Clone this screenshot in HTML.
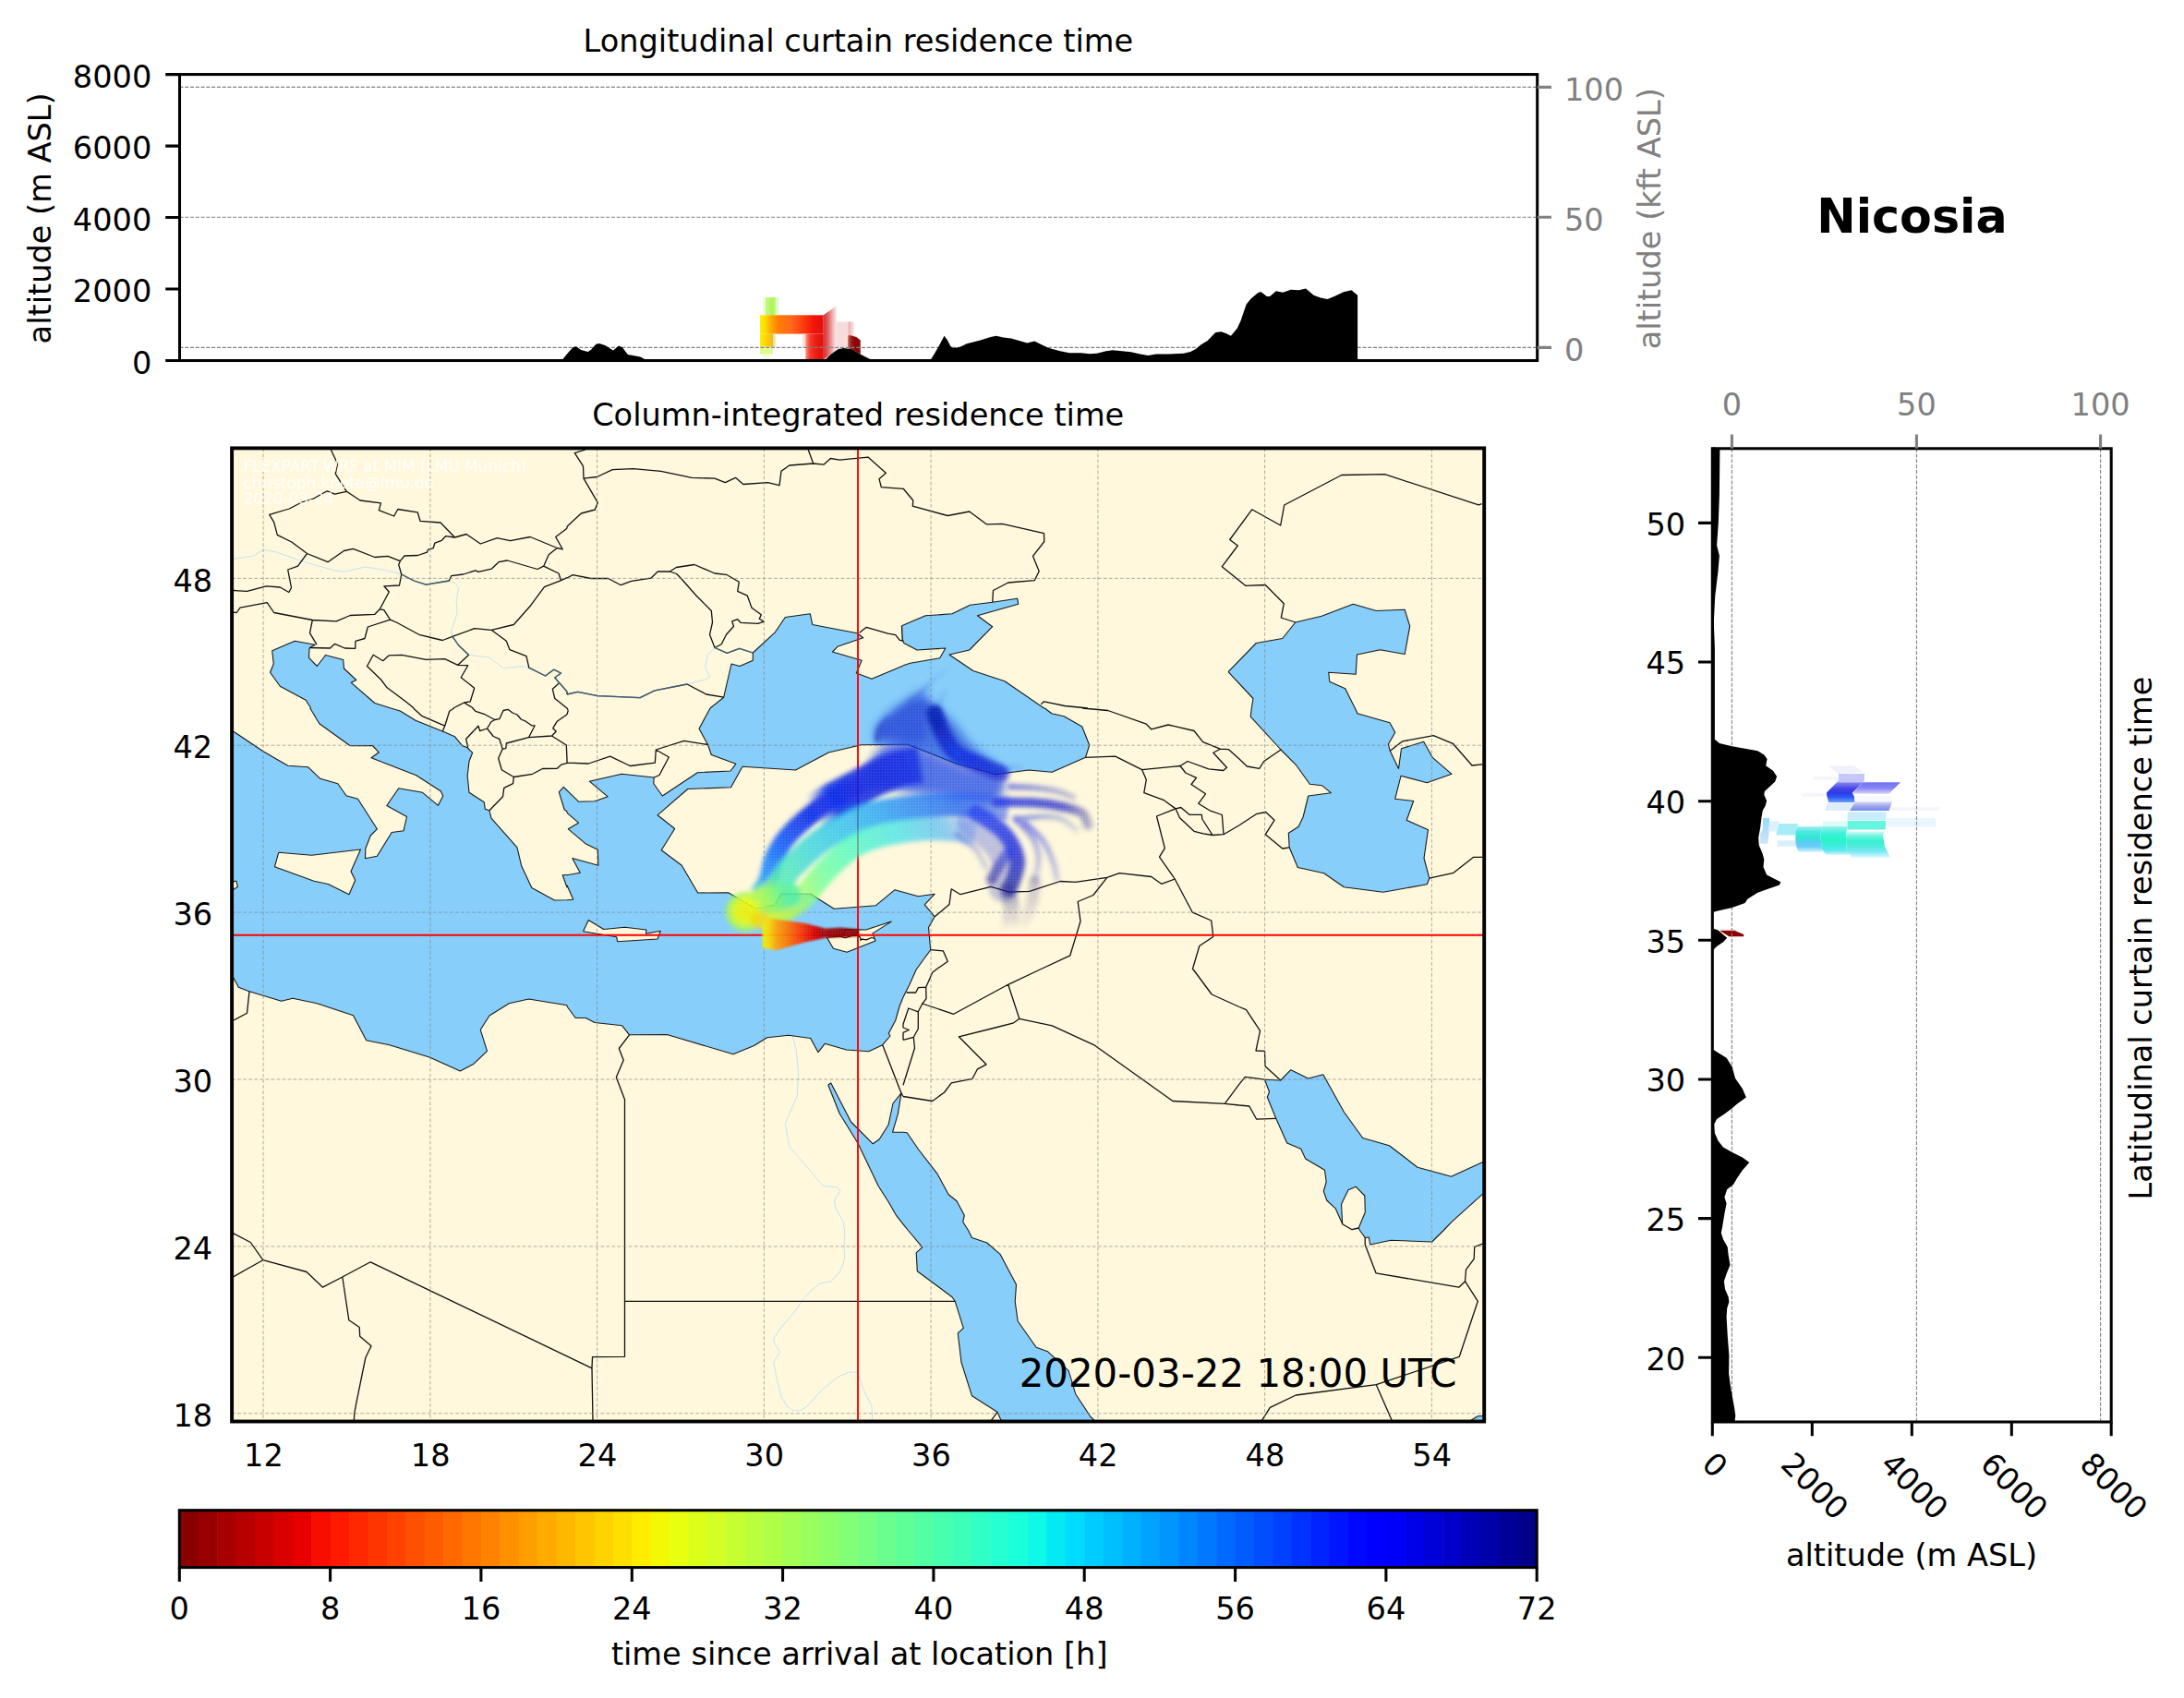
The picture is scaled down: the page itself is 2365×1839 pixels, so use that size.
<!DOCTYPE html>
<html><head><meta charset="utf-8"><title>Nicosia residence time</title>
<style>
html,body{margin:0;padding:0;background:#fff;}
svg{display:block;}
text{font-family:"DejaVu Sans","Liberation Sans",sans-serif;font-size:33.6px;fill:#000;}
</style></head>
<body>
<svg width="2365" height="1839" viewBox="0 0 2365 1839">
<defs><filter id="pblur" x="-10%" y="-10%" width="120%" height="120%"><feGaussianBlur stdDeviation="2.6"/></filter><filter id="pblur0" x="-10%" y="-10%" width="120%" height="120%"><feGaussianBlur stdDeviation="1.1"/></filter><filter id="pblur2" x="-10%" y="-10%" width="120%" height="120%"><feGaussianBlur stdDeviation="5"/></filter><pattern id="dotpat" x="0.5" y="1.2" width="3.0126" height="3.015" patternUnits="userSpaceOnUse"><rect width="3.1" height="3.1" fill="#cccccc"/><rect x="0.35" y="0.35" width="2.3" height="2.3" fill="#fff"/></pattern><mask id="dotmask" maskUnits="userSpaceOnUse" x="700" y="650" width="600" height="450"><rect x="700" y="650" width="600" height="450" fill="url(#dotpat)"/></mask><linearGradient id="g0" gradientUnits="userSpaceOnUse" x1="950.2" y1="802.1" x2="961" y2="778.3"><stop offset="0%" stop-color="#1428b8" stop-opacity="0.75"/><stop offset="100%" stop-color="#2040c8" stop-opacity="0.5"/></linearGradient><linearGradient id="g1" gradientUnits="userSpaceOnUse" x1="996.7" y1="749.8" x2="1026.4" y2="724.8"><stop offset="0%" stop-color="#3060e0" stop-opacity="0.4"/><stop offset="100%" stop-color="#3060e0" stop-opacity="0.05"/></linearGradient><linearGradient id="g2" gradientUnits="userSpaceOnUse" x1="986" y1="759.3" x2="1006.2" y2="743.8"><stop offset="0%" stop-color="#2848d8" stop-opacity="0.45"/><stop offset="100%" stop-color="#2848d8" stop-opacity="0.1"/></linearGradient><linearGradient id="g3" gradientUnits="userSpaceOnUse" x1="1015.7" y1="767.6" x2="1024" y2="747.4"><stop offset="0%" stop-color="#2848d8" stop-opacity="0.4"/><stop offset="100%" stop-color="#2848d8" stop-opacity="0.05"/></linearGradient><linearGradient id="g4" gradientUnits="userSpaceOnUse" x1="1012.1" y1="772.4" x2="1083.6" y2="837.3"><stop offset="0%" stop-color="#0614b0" stop-opacity="0.92"/><stop offset="50%" stop-color="#0a24dc" stop-opacity="0.92"/><stop offset="100%" stop-color="#0c1cd0" stop-opacity="0.75"/></linearGradient><linearGradient id="g5" gradientUnits="userSpaceOnUse" x1="1013.3" y1="781.9" x2="1037.1" y2="817.6"><stop offset="0%" stop-color="#0410a0" stop-opacity="0.7"/><stop offset="100%" stop-color="#1040f0" stop-opacity="0.7"/></linearGradient><linearGradient id="g6" gradientUnits="userSpaceOnUse" x1="1083.6" y1="837.3" x2="1106.2" y2="833.1"><stop offset="0%" stop-color="#2030c0" stop-opacity="0.5"/><stop offset="100%" stop-color="#2030c0" stop-opacity="0.1"/></linearGradient><linearGradient id="g7" gradientUnits="userSpaceOnUse" x1="821.4" y1="969" x2="969" y2="832.7"><stop offset="0%" stop-color="#40d8c0" stop-opacity="0.9"/><stop offset="8%" stop-color="#1c94ff" stop-opacity="0.93"/><stop offset="28%" stop-color="#0a58fa" stop-opacity="0.95"/><stop offset="50%" stop-color="#0624ea" stop-opacity="0.95"/><stop offset="72%" stop-color="#081ee0" stop-opacity="0.95"/><stop offset="100%" stop-color="#081ee0" stop-opacity="0.0"/></linearGradient><linearGradient id="g8" gradientUnits="userSpaceOnUse" x1="880.4" y1="882.1" x2="996.4" y2="828.6"><stop offset="0%" stop-color="#0a3ce8" stop-opacity="0.0"/><stop offset="20%" stop-color="#0624ea" stop-opacity="0.9"/><stop offset="60%" stop-color="#0820e0" stop-opacity="0.92"/><stop offset="100%" stop-color="#0c28e4" stop-opacity="0.9"/></linearGradient><linearGradient id="g9" gradientUnits="userSpaceOnUse" x1="810.7" y1="985.7" x2="1091.7" y2="876.2"><stop offset="0%" stop-color="#e8f818" stop-opacity="0.95"/><stop offset="7%" stop-color="#a8f858" stop-opacity="0.9"/><stop offset="14%" stop-color="#3cecb0" stop-opacity="0.82"/><stop offset="30%" stop-color="#20d0e4" stop-opacity="0.8"/><stop offset="48%" stop-color="#14b0f8" stop-opacity="0.8"/><stop offset="66%" stop-color="#1080f8" stop-opacity="0.8"/><stop offset="84%" stop-color="#1458f4" stop-opacity="0.8"/><stop offset="100%" stop-color="#1840f0" stop-opacity="0.5"/></linearGradient><linearGradient id="g10" gradientUnits="userSpaceOnUse" x1="827.4" y1="995.2" x2="1056" y2="902.4"><stop offset="0%" stop-color="#f0f410" stop-opacity="0.95"/><stop offset="10%" stop-color="#c0f840" stop-opacity="0.9"/><stop offset="20%" stop-color="#98ff68" stop-opacity="0.82"/><stop offset="32%" stop-color="#58ff98" stop-opacity="0.78"/><stop offset="50%" stop-color="#30f8c8" stop-opacity="0.75"/><stop offset="70%" stop-color="#28dcec" stop-opacity="0.72"/><stop offset="87%" stop-color="#38b0fc" stop-opacity="0.65"/><stop offset="100%" stop-color="#4090f8" stop-opacity="0.3"/></linearGradient><linearGradient id="g11" gradientUnits="userSpaceOnUse" x1="807.1" y1="985.7" x2="853.6" y2="969"><stop offset="0%" stop-color="#e4f818" stop-opacity="0.95"/><stop offset="50%" stop-color="#98f858" stop-opacity="0.92"/><stop offset="100%" stop-color="#50f0a0" stop-opacity="0.9"/></linearGradient><linearGradient id="g12" gradientUnits="userSpaceOnUse" x1="1094.3" y1="852.1" x2="1162.1" y2="863.5"><stop offset="0%" stop-color="#2030e0" stop-opacity="0.65"/><stop offset="100%" stop-color="#2030c0" stop-opacity="0.3"/></linearGradient><linearGradient id="g13" gradientUnits="userSpaceOnUse" x1="1078.8" y1="868.8" x2="1178.2" y2="893.8"><stop offset="0%" stop-color="#1830e8" stop-opacity="0.88"/><stop offset="70%" stop-color="#1820c8" stop-opacity="0.75"/><stop offset="100%" stop-color="#202098" stop-opacity="0.35"/></linearGradient><linearGradient id="g14" gradientUnits="userSpaceOnUse" x1="1102.6" y1="886.7" x2="1165.7" y2="898.6"><stop offset="0%" stop-color="#2040e8" stop-opacity="0.6"/><stop offset="100%" stop-color="#2040c0" stop-opacity="0.2"/></linearGradient><linearGradient id="g15" gradientUnits="userSpaceOnUse" x1="1056.8" y1="880.2" x2="1092.8" y2="962.9"><stop offset="0%" stop-color="#1838f0" stop-opacity="0.85"/><stop offset="60%" stop-color="#1420e0" stop-opacity="0.85"/><stop offset="100%" stop-color="#14149a" stop-opacity="0.75"/></linearGradient><linearGradient id="g16" gradientUnits="userSpaceOnUse" x1="1052.6" y1="890.8" x2="1086.5" y2="960.8"><stop offset="0%" stop-color="#2848f0" stop-opacity="0.35"/><stop offset="100%" stop-color="#2838c0" stop-opacity="0.3"/></linearGradient><linearGradient id="g17" gradientUnits="userSpaceOnUse" x1="1090.7" y1="962.9" x2="1092.8" y2="1007.4"><stop offset="0%" stop-color="#20208a" stop-opacity="0.45"/><stop offset="100%" stop-color="#20208a" stop-opacity="0.0"/></linearGradient><linearGradient id="g18" gradientUnits="userSpaceOnUse" x1="1035.6" y1="903.5" x2="1067.4" y2="939.6"><stop offset="0%" stop-color="#3040e0" stop-opacity="0.45"/><stop offset="100%" stop-color="#3040e0" stop-opacity="0.25"/></linearGradient><linearGradient id="g19" gradientUnits="userSpaceOnUse" x1="1109.8" y1="890.8" x2="1144.8" y2="952.3"><stop offset="0%" stop-color="#2838e8" stop-opacity="0.6"/><stop offset="100%" stop-color="#2838e8" stop-opacity="0.25"/></linearGradient><linearGradient id="g20" gradientUnits="userSpaceOnUse" x1="1099.2" y1="886.6" x2="1120.4" y2="954.4"><stop offset="0%" stop-color="#2838e8" stop-opacity="0.55"/><stop offset="100%" stop-color="#2838e8" stop-opacity="0.2"/></linearGradient><linearGradient id="g21" gradientUnits="userSpaceOnUse" x1="1120.4" y1="954.4" x2="1103.4" y2="1007.4"><stop offset="0%" stop-color="#303090" stop-opacity="0.3"/><stop offset="100%" stop-color="#303090" stop-opacity="0.0"/></linearGradient><linearGradient id="g22" gradientUnits="userSpaceOnUse" x1="1073.8" y1="952.3" x2="1090.7" y2="924.7"><stop offset="0%" stop-color="#1818a0" stop-opacity="0.6"/><stop offset="100%" stop-color="#1828e0" stop-opacity="0.6"/></linearGradient><radialGradient id="g23" gradientUnits="userSpaceOnUse" cx="807.2" cy="987.4" r="23"><stop offset="0%" stop-color="#f8f000" stop-opacity="1"/><stop offset="50%" stop-color="#e8f810" stop-opacity="1"/><stop offset="80%" stop-color="#b0f850" stop-opacity="0.95"/><stop offset="100%" stop-color="#90f070" stop-opacity="0.6"/></radialGradient><linearGradient id="g24" gradientUnits="userSpaceOnUse" x1="893.8" y1="1010.6" x2="825.8" y2="1010.6"><stop offset="0%" stop-color="#a00000" stop-opacity="1"/><stop offset="18%" stop-color="#e00000" stop-opacity="1"/><stop offset="40%" stop-color="#ff3800" stop-opacity="1"/><stop offset="62%" stop-color="#ff7800" stop-opacity="1"/><stop offset="78%" stop-color="#ffa000" stop-opacity="1"/><stop offset="90%" stop-color="#ffd800" stop-opacity="1"/><stop offset="100%" stop-color="#f4f000" stop-opacity="1"/></linearGradient><linearGradient id="g25" gradientUnits="userSpaceOnUse" x1="930.1" y1="1010.6" x2="893.8" y2="1010.6"><stop offset="0%" stop-color="#800000" stop-opacity="1"/><stop offset="100%" stop-color="#a40000" stop-opacity="1"/></linearGradient><linearGradient id="g26" gradientUnits="userSpaceOnUse" x1="823.1" y1="310" x2="891.7" y2="310"><stop offset="0%" stop-color="#f4f000"/><stop offset="8%" stop-color="#ffdc00"/><stop offset="18%" stop-color="#ffa400"/><stop offset="30%" stop-color="#ff7c04"/><stop offset="48%" stop-color="#ff6a1c"/><stop offset="66%" stop-color="#ff4010"/><stop offset="84%" stop-color="#f41408"/><stop offset="100%" stop-color="#e01010"/></linearGradient><linearGradient id="g27" gradientUnits="userSpaceOnUse" x1="823.1" y1="310" x2="839.8" y2="310"><stop offset="0%" stop-color="#f4f000"/><stop offset="30%" stop-color="#ffdc00"/><stop offset="80%" stop-color="#f0b824"/><stop offset="83%" stop-color="#e8e090"/><stop offset="100%" stop-color="#ece8a8"/></linearGradient><linearGradient id="g28" gradientUnits="userSpaceOnUse" x1="872.2" y1="310" x2="891.7" y2="310"><stop offset="0%" stop-color="#ff988a"/><stop offset="25%" stop-color="#f43c2c"/><stop offset="60%" stop-color="#ec1c14"/><stop offset="100%" stop-color="#de1010"/></linearGradient><linearGradient id="g29" gradientUnits="userSpaceOnUse" x1="891.7" y1="310" x2="905.8" y2="310"><stop offset="0%" stop-color="#de2c2c"/><stop offset="30%" stop-color="#e05858"/><stop offset="55%" stop-color="#e89090"/><stop offset="78%" stop-color="#f2c4c4"/><stop offset="100%" stop-color="#fae8e8"/></linearGradient><linearGradient id="g30" gradientUnits="userSpaceOnUse" x1="918.3" y1="310" x2="931.8" y2="310"><stop offset="0%" stop-color="#c05858"/><stop offset="30%" stop-color="#981818"/><stop offset="60%" stop-color="#8b0000"/><stop offset="100%" stop-color="#8f1010"/></linearGradient><linearGradient id="g31" gradientUnits="userSpaceOnUse" x1="1890" y1="847.2" x2="1890" y2="868.9"><stop offset="0%" stop-color="#8888f2"/><stop offset="32.6%" stop-color="#4444e4"/><stop offset="55.8%" stop-color="#2c3ce8"/><stop offset="74.4%" stop-color="#2c5cf4"/><stop offset="100%" stop-color="#6c9cf8"/></linearGradient><linearGradient id="g32" gradientUnits="userSpaceOnUse" x1="1890" y1="847.2" x2="1890" y2="859.8"><stop offset="0%" stop-color="#7474f4"/><stop offset="48%" stop-color="#8484f4"/><stop offset="100%" stop-color="#d4d4f8"/></linearGradient><linearGradient id="g33" gradientUnits="userSpaceOnUse" x1="1890" y1="868.4" x2="1890" y2="877.9"><stop offset="0%" stop-color="#d4d4f4"/><stop offset="52.6%" stop-color="#a0a4ec"/><stop offset="100%" stop-color="#6c8cec"/></linearGradient><linearGradient id="g34" gradientUnits="userSpaceOnUse" x1="1890" y1="886" x2="1890" y2="913.7"><stop offset="0%" stop-color="#98d8f8"/><stop offset="45.5%" stop-color="#b0e0f8"/><stop offset="100%" stop-color="#d0e4f8"/></linearGradient><linearGradient id="g35" gradientUnits="userSpaceOnUse" x1="1890" y1="895" x2="1890" y2="922.8"><stop offset="0%" stop-color="#a8f0f8"/><stop offset="20%" stop-color="#50e8e0"/><stop offset="41.8%" stop-color="#30e8d0"/><stop offset="56.4%" stop-color="#50d0f0"/><stop offset="78.2%" stop-color="#68ccf8"/><stop offset="100%" stop-color="#d4f2fc"/></linearGradient><linearGradient id="g36" gradientUnits="userSpaceOnUse" x1="1890" y1="895" x2="1890" y2="925.8"><stop offset="0%" stop-color="#98f0f0"/><stop offset="24.6%" stop-color="#40f0d8"/><stop offset="44.3%" stop-color="#28f4c8"/><stop offset="63.9%" stop-color="#38ecd8"/><stop offset="83.6%" stop-color="#58e8f0"/><stop offset="100%" stop-color="#c8f6f8"/></linearGradient><linearGradient id="g37" gradientUnits="userSpaceOnUse" x1="1890" y1="900.6" x2="1890" y2="928.8"><stop offset="0%" stop-color="#ccfaf4"/><stop offset="17.9%" stop-color="#70f4e0"/><stop offset="35.7%" stop-color="#38f0d0"/><stop offset="57.1%" stop-color="#50ecdc"/><stop offset="75%" stop-color="#78e8f4"/><stop offset="100%" stop-color="#d8f8fc"/></linearGradient></defs>
<rect width="2365" height="1839" fill="#fff"/>
<rect x="826" y="322.1" width="2.9" height="19.2" fill="#eefcd8" opacity="1"/>
<rect x="828.9" y="322.1" width="11.2" height="19.2" fill="#c2f77e" opacity="1"/>
<rect x="832.8" y="322.1" width="5.4" height="19.2" fill="#b2f562" opacity="1"/>
<rect x="840.1" y="322.1" width="2.9" height="19.2" fill="#dcfcc0" opacity="1"/>
<rect x="823.1" y="341.3" width="68.6" height="20.3" fill="url(#g26)"/>
<rect x="823.1" y="361.6" width="16.7" height="14.1" fill="url(#g27)"/>
<rect x="823.1" y="375.7" width="13.8" height="8" fill="#e2fb92" opacity="1"/>
<rect x="826" y="383.7" width="7.7" height="4.2" fill="#f4fdd8" opacity="1"/>
<rect x="869" y="361.6" width="3.2" height="14.1" fill="#fcdcd4" opacity="1"/>
<rect x="872.2" y="361.6" width="19.6" height="27.4" fill="url(#g28)"/>
<path d="M891.7 341.3 L905.8 331.2 L905.8 378.9 L899.7 383.7 L892.7 388.7 L891.7 389Z" fill="url(#g29)"/>
<path d="M905.8 348.5 L924.7 348.5 L924.7 378.9 L922.8 378.3 L913.8 377 L907.4 378.3 L905.8 379.1Z" fill="#f7dcdc" opacity="1"/>
<rect x="918.3" y="348.5" width="3.5" height="14.7" fill="#ecbcbc" opacity="1"/>
<path d="M918.3 363.2 L921.5 363.2 L927.3 365.1 L931.8 368.5 L931.8 383.7 L922.8 378.3 L918.3 377.3Z" fill="url(#g30)"/>
<path fill="none" stroke="#808080" stroke-width="1.1" stroke-dasharray="4.03 1.74" d="M194.5 94.4H1664.7 M194.5 235.3H1664.7 M194.5 376.4H1664.7"/>
<path fill="#000" d="M608.2 390.5 L615.6 381.5 L620.6 376.1 L623.8 375.3 L629.2 379 L636.7 381 L640.4 378.5 L645.3 372.8 L649 372.1 L655.2 374.1 L663.9 379.5 L670 374.6 L673.7 376.1 L679.9 384 L693.5 386.4 L700.9 390.5Z"/>
<path fill="#000" d="M890.1 390.5 L892.7 390.5 L899.7 383.7 L907.4 378.3 L913.8 377 L922.8 378.3 L931.8 383.7 L940.1 387.9 L945.9 390.5Z"/>
<path fill="#000" d="M1007.2 390.5 L1012.1 382.7 L1017.1 374.1 L1022.5 363.7 L1025.7 367.9 L1029.5 375.3 L1032.4 377 L1039.3 376.1 L1046.8 372.3 L1061.6 368.4 L1072.7 364.9 L1078.9 363.7 L1086.3 365.4 L1095 366.4 L1103.6 369.1 L1112.3 371.4 L1120.2 369.6 L1128.4 373.6 L1135.8 377 L1148.2 380.3 L1158 382.2 L1170.4 382.2 L1180.3 383.2 L1187.7 382.7 L1197.6 380.3 L1205 379.3 L1214.9 380.3 L1224.8 381.2 L1234.7 383.5 L1243.4 385 L1252 383.5 L1264.4 383.5 L1281.7 382.7 L1289.1 381 L1295.3 377.8 L1300.2 373.6 L1307.6 369.1 L1316.3 360 L1322.5 359.2 L1327.4 361 L1332.9 363.7 L1339.8 355.5 L1343.5 347.4 L1349.7 329.6 L1354.6 323.4 L1362 317.2 L1365.3 316 L1371.9 320.9 L1375.2 320.9 L1381.8 315.2 L1389.2 316.7 L1397.9 313.7 L1406.6 314.2 L1414 312.5 L1422.6 319.7 L1430 322.6 L1437.5 323.9 L1444.9 320.9 L1454.8 316.2 L1463.4 314.2 L1470.1 319.7 L1470.1 390.5Z"/>
<rect x="194.5" y="80.6" width="1470.2" height="309.9" fill="none" stroke="#000" stroke-width="3.06"/>
<path stroke="#000" stroke-width="3.06" d="M194.5 80.6H179.2 M194.5 158.1H179.2 M194.5 235.5H179.2 M194.5 313H179.2 M194.5 390.5H179.2"/>
<text x="164.3" y="94.7" text-anchor="end">8000</text>
<text x="164.3" y="172.2" text-anchor="end">6000</text>
<text x="164.3" y="249.6" text-anchor="end">4000</text>
<text x="164.3" y="327.1" text-anchor="end">2000</text>
<text x="164.3" y="404.6" text-anchor="end">0</text>
<path stroke="#808080" stroke-width="3.06" d="M1664.7 94.4H1680 M1664.7 235.3H1680 M1664.7 376.4H1680"/>
<text x="1694" y="108.6" style="fill:#808080">100</text>
<text x="1694" y="249.5" style="fill:#808080">50</text>
<text x="1694" y="390.6" style="fill:#808080">0</text>
<text x="929.4" y="56" text-anchor="middle">Longitudinal curtain residence time</text>
<text transform="translate(55,236.4) rotate(-90)" text-anchor="middle">altitude (m ASL)</text>
<text transform="translate(1798.3,236.7) rotate(-90)" text-anchor="middle" style="fill:#808080">altitude (kft ASL)</text>
<clipPath id="mapclip"><rect x="251.1" y="485.4" width="1356.1" height="1054.1"/></clipPath>
<g clip-path="url(#mapclip)">
<rect x="249.1" y="483.4" width="1360.1" height="1058.1" fill="#fff8dc"/>
<path fill="#87cefa" d="M294.7 704.8 L319.2 694.3 L341.3 698.2 L336.7 700.7 L335 702.3 L334.5 712.3 L343.3 721.5 L352.5 709.5 L371.7 714.5 L372.5 724 L385.8 736.5 L380.3 739.3 L405.8 761.5 L423.3 767 L336.7 767 L331.2 758.2 L303.3 743.2 L292.5 728.2 L296.3 719Z M769 767 L783.7 755.2 L792 719 L801 721.5 L815.3 715.2 L815.3 707 L839 685.2 L850.3 668.5 L877.3 664.8 L879.8 676.5 L928.2 685.7 L934.8 690.7 L907 700.3 L901.5 706 L933.2 715.3 L927.3 729 L944 735.2 L978 721 L978 767Z M976.5 677.7 L1002.2 666.8 L1031 664.8 L1050.5 655.3 L1074.7 652.3 L1101.7 648.2 L1102.7 654.3 L1058.5 666.8 L1074.7 678.7 L1049.7 704 L1028 709 L1053.8 726.5 L1088 737.7 L1130.5 767 L978 767 L978 720.7 L985.5 718.2 L1017.7 712.7 L1023.8 702 L993 704 L978.8 696.5 L977.3 693.2Z M1330 727.7 L1360.3 696.5 L1388.7 691.5 L1402.8 674 L1431.2 667.3 L1465.3 654.3 L1490.3 661.5 L1521.2 660.3 L1526.7 678.2 L1521.2 708.5 L1494.5 703.7 L1469.5 709 L1468.2 730.3 L1438.7 728.2 L1439.8 738.2 L1456.7 745.7 L1467.3 767 L1355.3 767 L1357 756.5Z M250 767 L614 767 L614 1050 L250 1050Z M614 767 L978 767 L978 1050 L614 1050Z M978 767 L1131.3 767 L1138.8 772.8 L1152.2 775.7 L1171.8 787 L1179.7 807 L1175.5 820.3 L1139.3 836.2 L1113.8 834 L1078.7 838.7 L1035.3 827 L982.8 806.2 L978 806.2Z M978 966.2 L994.3 970.7 L1012.2 968.2 L1001.3 979.8 L1012.2 992.8 L1005.5 1004.5 L1007.7 1028.7 L992.2 1050 L978 1050Z M1467.3 767 L1470 772.8 L1505 782.8 L1510.7 793.3 L1503.3 806.2 L1505.3 813.3 L1514.5 832.5 L1517.5 810.7 L1541.7 803.3 L1551.2 820.3 L1572 838.3 L1545.3 847.8 L1517 840.3 L1510.7 865.3 L1530.7 867.5 L1523.2 888.3 L1546.5 898.7 L1542 929.5 L1547.8 951.2 L1545.3 957.8 L1497.8 966.2 L1455.3 960.8 L1433.7 945.8 L1405.3 939.5 L1396.2 917.8 L1395.3 902.3 L1406.2 895.3 L1411.2 884.5 L1416.7 862 L1441.2 858.7 L1431.7 850.8 L1418.3 849.2 L1403.3 828.3 L1387 812 L1354.2 776.2 L1355.3 767Z M250 1050 L614 1050 L614 1088.7 L572.5 1082 L551.3 1086.7 L530 1100 L520.3 1115.3 L527.5 1138.3 L513 1152.2 L498.3 1160 L465 1145 L421.7 1131.7 L396.7 1126.7 L382.5 1099.7 L343.3 1086.7 L317 1081.2 L304.7 1084.2 L270 1073.7 L258.3 1069.2 L253 1059.2 L250 1055Z M614 1050 L978 1050 L978 1080 L974 1090 L969.8 1105 L962.3 1119.2 L964 1122 L955.7 1131.7 L940.7 1138.8 L916.5 1137 L893.2 1130.3 L886 1139.7 L877.7 1124.5 L854 1121.3 L830.7 1123.7 L816.5 1132.5 L794 1141.7 L722.3 1120.5 L681.5 1120.8 L673.7 1110.8 L644 1107.5 L634.3 1102.5 L623.2 1102.5 L614 1090Z M896.8 1175 L899.8 1173 L921.5 1215 L945.3 1238.8 L952.3 1233.8 L962 1218.3 L967 1195 L976 1183.8 L972.3 1206.7 L966.5 1226.3 L978 1226.3 L978 1325.8 L970.7 1316.7 L962.3 1302 L951 1284.2 L929 1238.3 L909 1205.8Z M978 1050 L992.2 1050 L984.7 1066.7 L978 1080Z M978 1226.3 L982.2 1226.7 L994.7 1245 L1014.7 1270.8 L1027.2 1293.8 L1036 1300.8 L1044.3 1316.3 L1042.7 1323.3 L1048.8 1333 L983.8 1333 L978 1325.8Z M1369.5 1169.2 L1386.7 1170 L1397.8 1158.7 L1416.7 1168 L1432.8 1163.8 L1455.3 1204.2 L1475.7 1232.5 L1504.5 1240.8 L1535 1264.2 L1571.5 1274.2 L1605.3 1258.7 L1612 1258.7 L1612 1293.3 L1605.3 1293.3 L1572 1323.3 L1562.8 1333 L1472.8 1333 L1471.2 1330 L1478.3 1313 L1477.8 1295 L1468.3 1285.3 L1460 1288.7 L1452.5 1304.2 L1453.7 1325.8 L1446.2 1308.8 L1436.7 1300 L1433.3 1290 L1436.2 1280 L1434.5 1267.2 L1413.7 1255 L1408.7 1244.2 L1393.7 1238 L1381.7 1211.3 L1372.3 1188.3 L1374.5 1182.5Z M983.8 1333 L1048.8 1333 L1052.5 1340.5 L1068.8 1346 L1083 1358.3 L1100.5 1391.3 L1099.2 1409.7 L1102.2 1431 L1122.2 1459.2 L1134.7 1463.8 L1157.2 1484.7 L1164.7 1509.7 L1180.5 1533.8 L1186.3 1539.7 L1084.7 1539.7 L1080 1529.3 L1052.5 1511.8 L1041 1475.5 L1037.2 1443.8 L1043.3 1438.3 L1034.2 1409.3 L1031 1404.7 L993.3 1376.7 L992.2 1356.7 L998.8 1350.8Z M1562.8 1333 L1550.7 1345 L1506.2 1343.3 L1483.7 1348 L1482.3 1340 L1478.2 1340.5 L1472.8 1333Z M1592.8 1538.3 L1600.3 1533.8 L1612 1533 L1612 1541.3 L1592.8 1541.3Z"/>
<path fill="#fff8dc" d="M250 767 L335.8 767 L345.8 783.7 L379.2 807.8 L403.3 807.5 L410.3 814.8 L402 820.7 L450.8 839.8 L477.5 857 L479.7 862 L474.5 872.3 L457.5 858.3 L431.7 853.7 L418.8 872.5 L440.5 884.5 L437 899.8 L424.2 901.5 L408.3 927.3 L395.5 929.8 L395.8 919 L401.3 905 L408.3 897.8 L387.5 865.3 L375 861.7 L365.8 848.7 L346.7 843.3 L333.8 830.8 L311.7 829.2 L285 813.7 L250 790.3Z M301.7 923.3 L337.5 926.2 L390.5 920 L380 943.7 L384.7 953.2 L378 968.7 L355.3 957.5 L340 954.2 L297.5 938.7Z M250 955.3 L255.8 954.2 L257.5 960.3 L250 965.3Z M614 767 L614 856.2 L610.3 852.3 L605.3 857.8 L611.2 877 L614 878.7 L614 947.5 L609.2 947.8 L614 961.2 L614 974.7 L600.5 975 L575.8 961.5 L564.7 937.8 L560 917.8 L532 886.2 L530 877.8 L525.3 876.2 L524.2 868.7 L508 858.3 L506.2 840.3 L508 824.5 L511.7 815.3 L505.8 809.5 L500.8 807.8 L492.5 797.8 L479.2 792 L450 780.3 L433.3 770 L423.3 767Z M614 767 L769 767 L757 789.2 L766.5 806.5 L770.3 817.5 L796.8 827.3 L791 835 L755.3 836.7 L717.3 862 L707.8 848.7 L708.2 842 L673.2 838.3 L638.2 846.2 L658.2 862.8 L644 867.8 L626.5 868.2 L610.3 852.3Z M614 880.3 L626.5 891.2 L615.3 897.8 L634 913.7 L647.3 920.3 L647.8 937.3 L619.8 929.5 L628.2 945.3 L614 947.8Z M614 958.7 L620.7 974.2 L614 974.8Z M804 830.3 L861.5 834 L897.3 815 L932.7 806.7 L978 806.2 L978 966.2 L969 963.7 L948.2 980.8 L903.2 984.2 L877.7 968.2 L846 967.7 L839 980.3 L818.3 984 L788.7 966.7 L755.7 967 L738.2 937.3 L716.2 920.7 L730.7 897.5 L712 882.8 L744.8 854.5 L791.5 852.8Z M631.5 1008.7 L637.3 996.5 L653.7 1006.5 L676.5 1004.2 L699.8 1007 L699.5 1011.2 L715.2 1008.3 L712 1017 L668.7 1019.8 L667.7 1014.8Z M895.4 1015.2 L909.7 1014.1 L911.8 1013.9 L916.1 1006.6 L937.8 1007 L965.2 998.1 L944.9 1010.9 L947.1 1016.5 L948 1019 L917.1 1031.2 L902.4 1027.3Z"/>
<path fill="none" stroke="#c2e4f4" stroke-width="1.0" d="M253 605.3 L275 602 L285 595.3 L298.3 597.7 L328.3 608.2 L363.3 618.2 L373.3 619.3 L395 614 L416.7 617.3 L434.7 622 M486.3 629 L492.5 631.5 L496.7 636.5 L494.2 650.7 L495 664 L488.7 684 L490 689.3 M507.5 709.3 L530 712 L545 723.7 L565 721.5 L572.8 723.2 M774 701.5 L766.5 709 L763.5 722.3 L768.7 733.2 L764 736 L744 741 M858.2 1122 L862.3 1136.7 L864.5 1163.3 L863.2 1186.7 L854 1208.3 L850.3 1217.5 L852.7 1230 L854.8 1241.7 L864 1252.5 L879 1270 L890.7 1284.2 L906.5 1285.8 L909.8 1290 L903.5 1300 L904.8 1308.3 L913.2 1323.3 L914.8 1333 M914.8 1333 L914 1349.7 L914.8 1359.7 L913.2 1368.8 L909 1378 L900.7 1387.2 L887.3 1390.5 L879 1397.2 L869.8 1407.2 L860.7 1420.5 L845.7 1438 L837.7 1449.7 L838.2 1453.8 L844.8 1464.7 L837.7 1475 L840.7 1491.3 L846.5 1513.8 L852.3 1523 L859 1527.7 L866.5 1528 L874 1523 L890.7 1504.7 L907.3 1491.3 L919 1486.3 L928.2 1486 M929.8 1489.7 L935.7 1506.3 L944 1523 L944.8 1539.7"/>
<path fill="none" stroke="#1a1a1a" stroke-width="1.1" stroke-linejoin="round" d="M294.7 704.8 L319.2 694.3 L341.3 698.2 L336.7 700.7 L335 702.3 L334.5 712.3 L343.3 721.5 L352.5 709.5 L371.7 714.5 L372.5 724 L385.8 736.5 L380.3 739.3 L405.8 761.5 L423.3 767 M336.7 767 L331.2 758.2 L303.3 743.2 L292.5 728.2 L296.3 719 L294.7 704.8 M769 767 L783.7 755.2 L792 719 L801 721.5 L815.3 715.2 L815.3 707 L839 685.2 L850.3 668.5 L877.3 664.8 L879.8 676.5 L928.2 685.7 L934.8 690.7 L907 700.3 L901.5 706 L933.2 715.3 L927.3 729 L944 735.2 L978 721 M976.5 677.7 L1002.2 666.8 L1031 664.8 L1050.5 655.3 L1074.7 652.3 L1101.7 648.2 L1102.7 654.3 L1058.5 666.8 L1074.7 678.7 L1049.7 704 L1028 709 L1053.8 726.5 L1088 737.7 L1130.5 767 M978 720.7 L985.5 718.2 L1017.7 712.7 L1023.8 702 L993 704 L978.8 696.5 L977.3 693.2 M1330 727.7 L1360.3 696.5 L1388.7 691.5 L1402.8 674 L1431.2 667.3 L1465.3 654.3 L1490.3 661.5 L1521.2 660.3 L1526.7 678.2 L1521.2 708.5 L1494.5 703.7 L1469.5 709 L1468.2 730.3 L1438.7 728.2 L1439.8 738.2 L1456.7 745.7 L1467.3 767 M1355.3 767 L1357 756.5 L1330 727.7 M335.8 767 L345.8 783.7 L379.2 807.8 L403.3 807.5 L410.3 814.8 L402 820.7 L450.8 839.8 L477.5 857 L479.7 862 L474.5 872.3 L457.5 858.3 L431.7 853.7 L418.8 872.5 L440.5 884.5 L437 899.8 L424.2 901.5 L408.3 927.3 L395.5 929.8 L395.8 919 L401.3 905 L408.3 897.8 L387.5 865.3 L375 861.7 L365.8 848.7 L346.7 843.3 L333.8 830.8 L311.7 829.2 L285 813.7 L250 790.3 M301.7 923.3 L337.5 926.2 L390.5 920 L380 943.7 L384.7 953.2 L378 968.7 L355.3 957.5 L340 954.2 L297.5 938.7 L301.7 923.3 M250 955.3 L255.8 954.2 L257.5 960.3 L250 965.3 M423.3 767 L433.3 770 L450 780.3 L479.2 792 L492.5 797.8 L500.8 807.8 L505.8 809.5 L511.7 815.3 L508 824.5 L506.2 840.3 L508 858.3 L524.2 868.7 L525.3 876.2 L530 877.8 L532 886.2 L560 917.8 L564.7 937.8 L575.8 961.5 L600.5 975 L614 974.7 M614 961.2 L609.2 947.8 L614 947.5 M614 878.7 L611.2 877 L605.3 857.8 L610.3 852.3 L614 856.2 M769 767 L757 789.2 L766.5 806.5 L770.3 817.5 L796.8 827.3 L791 835 L755.3 836.7 L717.3 862 L707.8 848.7 L708.2 842 L673.2 838.3 L638.2 846.2 L658.2 862.8 L644 867.8 L626.5 868.2 L610.3 852.3 M614 880.3 L626.5 891.2 L615.3 897.8 L634 913.7 L647.3 920.3 L647.8 937.3 L619.8 929.5 L628.2 945.3 L614 947.8 M614 958.7 L620.7 974.2 L614 974.8 M804 830.3 L861.5 834 L897.3 815 L932.7 806.7 L978 806.2 M978 966.2 L969 963.7 L948.2 980.8 L903.2 984.2 L877.7 968.2 L846 967.7 L839 980.3 L818.3 984 L788.7 966.7 L755.7 967 L738.2 937.3 L716.2 920.7 L730.7 897.5 L712 882.8 L744.8 854.5 L791.5 852.8 L804 830.3 M631.5 1008.7 L637.3 996.5 L653.7 1006.5 L676.5 1004.2 L699.8 1007 L699.5 1011.2 L715.2 1008.3 L712 1017 L668.7 1019.8 L667.7 1014.8 L631.5 1008.7 M1131.3 767 L1138.8 772.8 L1152.2 775.7 L1171.8 787 L1179.7 807 L1175.5 820.3 L1139.3 836.2 L1113.8 834 L1078.7 838.7 L1035.3 827 L982.8 806.2 L978 806.2 M978 966.2 L994.3 970.7 L1012.2 968.2 L1001.3 979.8 L1012.2 992.8 L1005.5 1004.5 L1007.7 1028.7 L992.2 1050 M1355.3 767 L1354.2 776.2 L1387 812 L1403.3 828.3 L1418.3 849.2 L1431.7 850.8 L1441.2 858.7 L1416.7 862 L1411.2 884.5 L1406.2 895.3 L1395.3 902.3 L1396.2 917.8 L1405.3 939.5 L1433.7 945.8 L1455.3 960.8 L1497.8 966.2 L1545.3 957.8 L1547.8 951.2 L1542 929.5 L1546.5 898.7 L1523.2 888.3 L1530.7 867.5 L1510.7 865.3 L1517 840.3 L1545.3 847.8 L1572 838.3 L1551.2 820.3 L1541.7 803.3 L1517.5 810.7 L1514.5 832.5 L1505.3 813.3 L1503.3 806.2 L1510.7 793.3 L1505 782.8 L1470 772.8 L1467.3 767 M614 1088.7 L572.5 1082 L551.3 1086.7 L530 1100 L520.3 1115.3 L527.5 1138.3 L513 1152.2 L498.3 1160 L465 1145 L421.7 1131.7 L396.7 1126.7 L382.5 1099.7 L343.3 1086.7 L317 1081.2 L304.7 1084.2 L270 1073.7 L258.3 1069.2 L253 1059.2 L250 1055 M978 1080 L974 1090 L969.8 1105 L962.3 1119.2 L964 1122 L955.7 1131.7 L940.7 1138.8 L916.5 1137 L893.2 1130.3 L886 1139.7 L877.7 1124.5 L854 1121.3 L830.7 1123.7 L816.5 1132.5 L794 1141.7 L722.3 1120.5 L681.5 1120.8 L673.7 1110.8 L644 1107.5 L634.3 1102.5 L623.2 1102.5 L614 1090 M896.8 1175 L899.8 1173 L921.5 1215 L945.3 1238.8 L952.3 1233.8 L962 1218.3 L967 1195 L976 1183.8 L972.3 1206.7 L966.5 1226.3 L978 1226.3 M978 1325.8 L970.7 1316.7 L962.3 1302 L951 1284.2 L929 1238.3 L909 1205.8 L896.8 1175 M992.2 1050 L984.7 1066.7 L978 1080 M978 1226.3 L982.2 1226.7 L994.7 1245 L1014.7 1270.8 L1027.2 1293.8 L1036 1300.8 L1044.3 1316.3 L1042.7 1323.3 L1048.8 1333 M983.8 1333 L978 1325.8 M1369.5 1169.2 L1386.7 1170 L1397.8 1158.7 L1416.7 1168 L1432.8 1163.8 L1455.3 1204.2 L1475.7 1232.5 L1504.5 1240.8 L1535 1264.2 L1571.5 1274.2 L1605.3 1258.7 L1612 1258.7 L1612 1293.3 L1605.3 1293.3 L1572 1323.3 L1562.8 1333 M1472.8 1333 L1471.2 1330 L1478.3 1313 L1477.8 1295 L1468.3 1285.3 L1460 1288.7 L1452.5 1304.2 L1453.7 1325.8 L1446.2 1308.8 L1436.7 1300 L1433.3 1290 L1436.2 1280 L1434.5 1267.2 L1413.7 1255 L1408.7 1244.2 L1393.7 1238 L1381.7 1211.3 L1372.3 1188.3 L1374.5 1182.5 L1369.5 1169.2 M1048.8 1333 L1052.5 1340.5 L1068.8 1346 L1083 1358.3 L1100.5 1391.3 L1099.2 1409.7 L1102.2 1431 L1122.2 1459.2 L1134.7 1463.8 L1157.2 1484.7 L1164.7 1509.7 L1180.5 1533.8 L1186.3 1539.7 L1084.7 1539.7 L1080 1529.3 L1052.5 1511.8 L1041 1475.5 L1037.2 1443.8 L1043.3 1438.3 L1034.2 1409.3 L1031 1404.7 L993.3 1376.7 L992.2 1356.7 L998.8 1350.8 L983.8 1333 M1472.8 1333 L1478.2 1340.5 L1482.3 1340 L1483.7 1348 L1506.2 1343.3 L1550.7 1345 L1562.8 1333 M1592.8 1538.3 L1600.3 1533.8 L1612 1533 L1612 1541.3 L1592.8 1541.3 L1592.8 1538.3 M895.4 1015.2 L909.7 1014.1 L911.8 1013.9 L916.1 1006.6 L937.8 1007 L965.2 998.1 L944.9 1010.9 L947.1 1016.5 L948 1019 L917.1 1031.2 L902.4 1027.3 L895.4 1015.2 M336.7 767 L335.8 767 M978 721 L978 720.7 M1130.5 767 L1131.3 767 M614 974.7 L614 974.8 M614 961.2 L614 958.7 M614 947.5 L614 947.8 M614 878.7 L614 880.3 M614 856.2 L610.3 852.3 M614 1088.7 L614 1090"/>
<path fill="none" stroke="#111" stroke-width="1.3" stroke-linejoin="round" d="M358.3 487 L365.5 502.3 L363.3 513.2 L375.3 532.3 M375.3 532.3 L362.5 535.2 L354.2 531.8 L340 539.8 L326.7 544 L313.3 551 L291.7 557.3 L296.7 565.7 L300.3 579.3 L315.8 587 L332.5 599.5 M375.3 532.3 L390 542 L412.5 544.8 L410.3 552.7 L426.7 559 L430.8 551.5 L452.2 554.8 L455 564.3 L477 566 L492.5 582 M332.5 599.5 L355 608.7 L372.5 596.5 L382.5 594.3 L405.8 603.5 L420 602.3 L433.3 607.7 M433.3 607.7 L438 602 L452.5 601.5 L462.5 598.2 L463.3 595.3 L469.2 593.7 L470.8 588.2 L478.3 585.3 L482.5 580.7 L492.5 582 M492.5 582 L505 578.5 L520.3 589 L538.3 582.7 L552.5 585.7 L574.2 581.5 L603.3 593.5 L609.2 594.8 L601.7 581.5 L614 572.3 M603.3 593.5 L594.2 600.7 L588.7 613.2 M332.5 599.5 L322.5 613.2 L311.7 617 L315.5 636.5 L312.8 641.5 L303.3 636 L288.3 634.8 L267.5 640.3 L253 639.5 M433.3 607.7 L431.7 611.5 L434.7 622 L432.5 634 L415.8 634.8 L421.3 641 L411.3 659.8 L405.8 665.3 L379.2 666.5 L364.2 672.8 L338.3 671.5 L296.7 663.5 L289.2 652.7 L260 658.2 L256.3 663.5 L253 663.2 M434.7 622 L448.3 629 L461.3 633.2 L486.3 629 L488.7 623.7 L501.7 622 L515 617.8 L518 619.3 L532.2 616.2 L540 608.7 L549.5 607 L582 616.5 L588.7 613.2 L605 621 L607.5 628.7 L614 625.7 M607.5 628.7 L589.5 635.7 L574.7 655.7 L556.3 676.5 L532.2 682.3 M411.3 659.8 L415.8 660.7 L422.5 671.2 L429.2 674 L453.7 687.3 L479.2 693.5 L490 689.3 L513.8 680.7 L532.2 682.3 M422.5 671.2 L398.3 679 L395 691.5 L385 694.3 L384.7 702.3 L373.3 702 L362.5 697.3 L357.5 702 L335 701.5 M338.3 671.5 L335.5 685.7 L343 698.2 M490 689.3 L496.7 699 L507.5 709.3 L495.8 720.3 L481.7 713.7 L461.3 714.3 L435 709.3 L421.3 709.8 L414.7 715.7 L404.2 709.3 L397.5 721.5 L412.5 736 L419.2 744.8 L438.3 759 L448.3 767 M495.8 720.3 L506.7 720.7 L499.2 733.7 L513.7 745.2 L509.2 759.8 L502.5 761 L490.8 767 M502.5 761 L512.5 767 M532.2 682.3 L548.3 694.3 L552 703.7 L570 710.7 L572.8 723.2 L590.5 732 L599.7 725.2 L607.5 729 L600.8 734 L614 749 M605 740.3 L598.3 746.2 L600.8 756.5 L614 767 L615.3 769.5 M634 487 L622.3 490.7 L631.5 504.8 L632 518.2 L646.5 516.5 L663.2 508.7 L685.7 507.7 L715.7 510.3 L749 517.3 L774 518.2 L785.3 522.7 L796.5 517.3 L804.8 524.5 L831.5 522.7 L844 525.7 L846 510.3 L854.8 504 L880.7 502 L892 503.2 L899.3 496.5 L909.3 498.2 L940.2 495.2 L959.3 512.3 L952 518.7 L954.3 527.7 L978 529.3 M880.7 502 L875.2 487 M632 518.2 L647.3 544.3 L644.3 552 L629.3 556 L614 570.2 M614 626 L620.3 622.7 L639.8 626.5 L658.7 626.5 L672.3 633.7 L683.7 629.3 L704.8 626.2 L712.3 619 L725.3 619 M725.3 619 L732.3 614.5 L752 611.5 L774 621 L786.5 622.3 L800.3 630.3 L798.7 640.3 L809.3 645.2 L814 658.2 L824.3 665.7 L822.3 670.3 L827.3 673.2 L820.7 675.3 L802 674.3 L798.7 670.7 L792.7 672.8 L794.5 678.2 L786.5 687.3 L781.2 697.7 L774 701.5 M725.3 619 L732.7 621.5 L738.2 627.3 L753.2 644.3 L770.3 661.5 L771.5 674 L768.5 687.3 L774 701.5 M774 701.5 L787.3 707.3 L800.7 702.3 L815.3 707 M930.7 685.2 L938.2 679.3 L961.5 686.2 L969.8 687.7 L974 693.2 L978 694.3 M614 752 L625.7 749.3 L647.3 753.7 L693.2 755.7 L709 747.8 L744 741 L764.8 752 L783.7 755.2 M978 529 L988.8 542 L988.3 548.2 L1026.3 558.5 L1049.7 554 L1068.3 567.8 L1085.5 567.3 L1130.5 577.7 L1130.8 586.5 L1118.5 602.3 L1125.2 618.7 L1120.2 628.7 L1091.7 631 L1075.5 639.5 L1074.7 652.3 M1127.2 762.7 L1130.5 759.8 L1153 764.5 L1178 767 M976.5 677.7 L976.8 685.7 L977.3 693.2 M1604.5 545.7 L1601.2 546.8 L1499.5 513.7 L1452.8 514.5 L1390.7 547 L1386.7 569 L1355.7 551.8 L1331.7 584.5 L1340.3 591 L1323.3 613.7 L1348.7 634.3 L1370.3 633.5 L1390.3 653.7 L1387.3 669 L1402.8 674 M447.5 767 L456.7 775.3 L481.7 786.2 L486.7 770.3 L491.7 767 M481.7 786.2 L479.2 792 M511.7 767 L515 770.3 L525 773.7 L535.8 779.5 L531.7 782 L527.5 789 L519.7 791.7 L518 786.2 L504.7 800.3 L506.7 809.5 M535.8 779.5 L540.8 778.7 L545 769.5 L550 768.3 L555 772 L560 774 L564.2 779 L569.2 781.2 L575.8 785.8 L579.2 785.8 L572.5 798.7 M527.5 789 L534.2 797.5 L540.8 800.3 L544.2 811.2 L547.8 810.7 L548.3 805 L572.5 798.7 L597.5 797 L613.3 807 L614 822 M597.5 797 L602.2 792.3 L598.8 788.7 L603.3 781.2 L614 773.7 M544.2 811.2 L539.7 821.2 L543.3 833.7 L556.3 841.5 L576.7 838.3 L587.5 832.5 L603.3 832.3 L608.3 827.8 L614 826.7 M556.3 841.5 L555.5 848.7 L545.8 853.3 L544.5 862.8 L530 877.8 M614 826.2 L637.3 827 L660.7 819.2 L682.3 829.5 L709.3 826.2 L710.3 812 L740.7 802.3 L766.5 806.5 M710.3 812 L724.3 820 L714 839.5 L708.2 842 M1172.2 767 L1199.7 769.5 L1241.3 784.2 L1246.7 789.8 L1265 785 L1293 791.5 L1302.7 803.7 L1321.3 811.2 L1330.5 811.7 L1342 822 M1321.3 811.2 L1313.8 815.3 L1328.5 831.2 L1324.7 834.5 L1308.8 832.8 L1286 824.5 L1278 829.5 M1175.5 820.3 L1207.7 819.2 L1236.7 833.7 L1278 829.5 M1236.7 833.7 L1241.3 844.5 L1238.8 858.7 L1260.5 866.7 L1273 875.8 M1278 829.5 L1283.8 837 L1295.5 842.3 L1290 849.5 L1305.5 859.8 L1297.7 870.3 L1310 877.8 L1323.3 882.5 L1325 903.7 L1313 904.5 M1273 875.8 L1278.8 874.5 L1288 882.3 L1301.3 882.3 L1301.8 887 L1313 904.5 M1273 875.8 L1277.5 885.7 L1293 900.3 L1303 902.8 L1313 904.5 M1273 875.8 L1252.5 884 L1261.3 918.7 L1255.5 928.2 L1272.2 952 M1325 903.7 L1342 893.7 M1012.2 992.8 L1028 979.5 L1030.2 962.8 L1040 968.7 L1073 960.3 L1093 966.2 L1114.7 965.3 L1148 954.5 L1164.7 955.3 L1198.8 950.3 M1198.8 950.3 L1212.2 945.7 L1246.7 949.5 L1257.7 957.3 L1272.2 952 M1198.8 950.3 L1183.8 969.5 L1167.2 976.5 L1170 997.8 L1158.8 1034.8 L1126.3 1050 M1272.2 952 L1291.3 988.2 L1311.7 997 L1313.8 1014.5 L1298.8 1024.5 L1291.3 1050 M1007.7 1028.7 L1021.3 1029.8 L1026.3 1041.2 L1013.8 1050 M1342 822 L1350.3 830 L1363.7 832.3 L1368.7 824.5 L1387 812 M1342 893.7 L1360.3 881.7 L1370.7 879.5 L1380 888.3 L1370.3 903.7 L1388.7 919 L1396.2 917.8 M1505.3 813.3 L1518.7 802.8 L1552.3 796.7 L1573.3 805.3 L1594 829 L1605.3 827.8 M1547.8 951.2 L1574 945.3 L1595.7 928.3 L1605.3 928.3 M270 1073.7 L267.5 1097.2 L253 1105 M681.5 1120.8 L670.3 1135.5 L675.2 1148.3 L667.3 1166.7 L676.5 1190.8 L676.5 1333 M955.7 1131.7 L975.7 1183.3 M1013.8 1050 L1009.7 1053.3 L1002.7 1069.2 L994.3 1069.7 L991.7 1075 L981.7 1075 M1002.7 1069.2 L1003 1081.7 L998.8 1087 L1032.7 1098.3 L1091.7 1066.3 L1126.3 1050 M1091.7 1066.3 L1103.8 1103.3 L1097.7 1107.8 L1079.7 1112.5 L1038.3 1122.8 L1068 1152.8 L1058.5 1157.8 L1053 1168.3 L1030.2 1172.8 L1022.7 1183 L1009.7 1192.5 L978 1187.5 M1103.8 1103.3 L1139.3 1110.8 L1185.5 1132.2 L1270 1192.5 L1326.3 1195.3 L1342 1197 M998.8 1087 L994.3 1095.8 L994.3 1114.2 L989.3 1123.3 L990.5 1135 L978 1175.3 M994.3 1095.8 L983.8 1092 L978 1109.2 M978 1113 L984.3 1115.5 L978 1118.3 M989.3 1123.3 L978 1126.3 M1292.2 1050 L1312.2 1077 L1342 1090.5 M1326.3 1195.3 L1342 1174.2 M1342 1090.5 L1349.5 1093.7 L1364.5 1116.3 L1360 1138 L1369.5 1138.3 L1370 1154.7 L1386.7 1170 M1342 1174.2 L1348.3 1166.3 L1369.5 1169.2 M1342 1197 L1352.8 1198 L1360.7 1212.2 L1381.7 1211.3 M1453.7 1325.8 L1464 1331.7 L1471.2 1330 M250 1334.3 L271.3 1345.5 L284.7 1364.7 L250 1384.3 M284.7 1364.7 L332 1377.5 L349.5 1394.2 L370.8 1383 L401.2 1366.8 L614 1468.8 M370.8 1383 L377.8 1429.7 L389.2 1437.5 L389.7 1447.2 L402 1457.7 L395.8 1470.5 L385.8 1519.7 L383.8 1530.5 L383.3 1539.7 M676.5 1333 L676.5 1409.3 L978 1409.3 M676.5 1409.3 L676.5 1469.3 L641.5 1469.7 L641 1481.8 L642 1539.7 M614 1468.8 L641 1481.8 M978 1409.3 L1034.2 1409.3 M1080 1529.3 L1073 1538.8 M1478.2 1340.5 L1478.2 1348 L1490 1378.8 L1579.8 1394.2 L1586.5 1387.7 L1587.5 1375.2 L1596.2 1363.3 L1596.7 1350.5 L1605.3 1347.2 M1586.5 1387.7 L1600.3 1409.3 L1580.3 1469.3 L1490.3 1499.7 L1403.3 1511 L1375.3 1524.3 L1365.7 1539.7 M1490.3 1499.7 L1507.8 1539.7 M909.7 1014.1 L915.3 1015.7 L923.5 1013.1 L929.3 1013.4 L931.5 1015.2 L932.1 1018.3 L933.6 1017.1 L938.1 1017.8 L943.8 1015.5 L947.1 1016.5 M614 572.3 L614 570.2 M614 625.7 L614 626 M448.3 767 L447.5 767 M490.8 767 L491.7 767 M512.5 767 L511.7 767 M614 749 L614 752 M978 529.3 L978 529 M978 694.3 L977.3 693.2 M1178 767 L1172.2 767 M614 822 L614 826.2 M614 773.7 L615.3 769.5 M1291.3 1050 L1292.2 1050 M978 1187.5 L975.7 1183.3 M978 1109.2 L978 1113 M978 1118.3 L978 1126.3"/>
<path fill="none" stroke="#808080" stroke-opacity="0.8" stroke-width="0.8" stroke-dasharray="3.75 2.3" d="M285.1 485.4 V1539.5 M465.9 485.4 V1539.5 M646.6 485.4 V1539.5 M827.4 485.4 V1539.5 M1008.1 485.4 V1539.5 M1188.9 485.4 V1539.5 M1369.6 485.4 V1539.5 M1550.4 485.4 V1539.5 M251.1 1530.8 H1607.2 M251.1 1349.9 H1607.2 M251.1 1169 H1607.2 M251.1 988.1 H1607.2 M251.1 807.2 H1607.2 M251.1 626.4 H1607.2"/>
<path fill="none" stroke="#f00" stroke-width="1.9" d="M929 485.4 V1539.5 M251.1 1012.8 H1607.2"/>
<path fill="none" stroke="#5888ac" stroke-opacity="0.65" stroke-width="1.4" d="M434.7 622 L448.3 629 L461.3 633.2 L486.3 629 M490 689.3 L496.7 699 L507.5 709.3 M572.8 723.2 L590.5 732 L599.7 725.2 L607.5 729 L600.8 734 L614 749 M614 752 L625.7 749.3 L647.3 753.7 L693.2 755.7 L709 747.8 L744 741 M774 701.5 L787.3 707.3 L800.7 702.3 L815.3 707"/>
<g mask="url(#dotmask)">
<g filter="url(#pblur2)">
<path d="M957.4 808.1 C961.7 807.9 974.2 805.1 983.6 806.9 C992.9 808.7 1003.4 814.8 1013.3 818.8 C1023.3 822.8 1032.2 827.3 1043.1 830.7 C1054 834.1 1071.3 835.7 1078.8 839 C1086.3 842.4 1089.3 846 1088.3 851 C1087.3 855.9 1083.4 866.8 1072.9 868.8 C1062.3 870.8 1041.1 864.8 1025.2 862.9 C1009.4 860.9 991.5 859.9 977.6 856.9 C963.7 853.9 947.5 851 941.9 845 C936.3 839 941.7 827.3 944.3 821.2 C946.9 815 955.2 810.3 957.4 808.1 Z" fill="#1c44ea" opacity="0.8"/>
<path d="M947.9 803.3 C947.9 801 945.9 793.6 947.9 789 C949.8 784.5 954.8 780.7 959.8 776 C964.7 771.2 971.5 765 977.6 760.5 C983.8 755.9 991.9 749.4 996.7 748.6 C1001.4 747.8 1004.6 751.5 1006.2 755.7 C1007.8 759.9 1007 765.6 1006.2 773.6 C1005.4 781.5 1006.2 798 1001.4 803.3 C996.7 808.7 986.5 805.7 977.6 805.7 C968.7 805.7 952.8 803.7 947.9 803.3 Z" fill="#2444d8" opacity="0.5"/>
<path d="M947.9 803.3 C948.3 800.6 948.1 791.6 950.2 786.7 C952.4 781.7 956 777.9 961 773.6 C965.9 769.2 973.3 763.3 980 760.5 C986.7 757.7 995.5 755.9 1001.4 756.9 C1007.4 757.9 1010.2 761.9 1015.7 766.4 C1021.3 771 1028.8 777.7 1034.8 784.3 C1040.7 790.8 1043.1 797.6 1051.4 805.7 C1059.8 813.8 1079.6 827.5 1084.8 833.1 C1089.9 838.7 1090.3 840 1082.4 839 C1074.4 838.1 1053.6 832.7 1037.1 827.1 C1020.7 821.6 998.5 809.7 983.6 805.7 C968.7 801.7 953.8 803.7 947.9 803.3 Z" fill="#1830d0" opacity="0.6"/>
</g>
<g filter="url(#pblur)">
<path d="M950.2 802.1 C950.4 800.4 949.6 795.4 951.4 791.4 C953.2 787.5 959.4 780.5 961 778.3" fill="none" stroke="url(#g0)" stroke-width="4.8" stroke-linecap="round" stroke-linejoin="round" opacity="1"/>
<path d="M996.7 749.8 C999.4 747.2 1008.4 738.5 1013.3 734.3 C1018.3 730.1 1024.2 726.3 1026.4 724.8" fill="none" stroke="url(#g1)" stroke-width="3.3" stroke-linecap="round" stroke-linejoin="round" opacity="1"/>
<path d="M986 759.3 C987.7 757.9 993.3 753.5 996.7 751 C1000 748.4 1004.6 745 1006.2 743.8" fill="none" stroke="url(#g2)" stroke-width="4.8" stroke-linecap="round" stroke-linejoin="round" opacity="1"/>
<path d="M1015.7 767.6 C1016.7 765 1020.3 755.5 1021.7 752.1 C1023.1 748.8 1023.7 748.2 1024 747.4" fill="none" stroke="url(#g3)" stroke-width="3.6" stroke-linecap="round" stroke-linejoin="round" opacity="1"/>
<path d="M1012.1 772.4 C1013.5 776 1016.7 786.7 1020.5 793.8 C1024.2 801 1028.4 809.7 1034.8 815.2 C1041.1 820.8 1050.4 823.5 1058.6 827.1 C1066.7 830.8 1079.4 835.6 1083.6 837.3" fill="none" stroke="url(#g4)" stroke-width="17.9" stroke-linecap="round" stroke-linejoin="round" opacity="1"/>
<path d="M1013.3 781.9 C1015.3 785.5 1021.3 797.4 1025.2 803.3 C1029.2 809.3 1035.2 815.2 1037.1 817.6" fill="none" stroke="url(#g5)" stroke-width="7.1" stroke-linecap="round" stroke-linejoin="round" opacity="1"/>
<path d="M1083.6 837.3 C1085.8 836.2 1092.9 831.4 1096.7 830.7 C1100.4 830 1104.6 832.7 1106.2 833.1" fill="none" stroke="url(#g6)" stroke-width="2.9" stroke-linecap="round" stroke-linejoin="round" opacity="1"/>
<path d="M821.4 969 C823.1 966.5 828.9 959.9 831.5 953.6 C834.2 947.2 834.7 937.9 837.5 931 C840.3 924 844.1 917.7 848.2 911.9 C852.3 906.2 856.5 901.7 861.9 896.4 C867.3 891.2 874.3 885.2 880.4 880.4 C886.4 875.5 892.3 871 898.2 867.3 C904.2 863.5 911 860.4 916.1 857.7 C921.1 855.1 923.1 854 928.6 851.2 C934 848.4 942.1 844.1 948.8 841.1 C955.6 838 965.7 834.1 969 832.7" fill="none" stroke="url(#g7)" stroke-width="20.5" stroke-linecap="butt" stroke-linejoin="round" opacity="1"/>
<path d="M880.4 882.1 C883.3 880 892.3 873 898.2 869.3 C904.2 865.6 911 862.4 916.1 859.8 C921.1 857.1 923.1 856.2 928.6 853.3 C934 850.5 941.5 846.1 948.8 842.6 C956.2 839.2 964.7 835.1 972.6 832.7 C980.6 830.4 992.5 829.3 996.4 828.6" fill="none" stroke="url(#g8)" stroke-width="38.7" stroke-linecap="butt" stroke-linejoin="round" opacity="1"/>
<path d="M810.7 985.7 C813.3 983.9 821 979.2 826.2 975 C831.3 970.8 837.1 966.1 841.7 960.7 C846.2 955.4 849.6 947.8 853.6 942.9 C857.5 937.9 860.9 935.3 865.5 931 C870 926.6 875.4 921.2 881 916.7 C886.5 912.1 892.5 907.5 898.8 903.6 C905.2 899.6 914.1 895.5 919 892.9 C924 890.2 922.6 889.8 928.6 887.5 C934.5 885.2 944.4 881.4 954.8 879.2 C965.1 876.9 978.6 875.1 990.5 873.8 C1002.4 872.5 1014.6 871.6 1026.2 871.4 C1037.8 871.2 1049.1 871.8 1060 872.6 C1070.9 873.4 1086.4 875.6 1091.7 876.2" fill="none" stroke="url(#g9)" stroke-width="26.4" stroke-linecap="butt" stroke-linejoin="round" opacity="1"/>
<path d="M827.4 995.2 C831.2 993.7 842.7 989.9 850 985.7 C857.3 981.5 865.3 976 871.4 970.2 C877.6 964.5 881.1 957.7 886.9 951.2 C892.8 944.6 899.6 937.1 906.5 931 C913.5 924.8 920.5 918.7 928.6 914.3 C936.6 909.9 946.4 907.1 954.8 904.8 C963.1 902.4 969.6 901.2 978.6 900 C987.5 898.8 999.4 897.8 1008.3 897.6 C1017.3 897.4 1024.2 898 1032.1 898.8 C1040.1 899.6 1052 901.8 1056 902.4" fill="none" stroke="url(#g10)" stroke-width="25" stroke-linecap="butt" stroke-linejoin="round" opacity="1"/>
<path d="M807.1 985.7 C810.9 984.1 822 979 829.8 976.2 C837.5 973.4 849.6 970.2 853.6 969" fill="none" stroke="url(#g11)" stroke-width="27.4" stroke-linecap="round" stroke-linejoin="round" opacity="1"/>
<path d="M1094.3 852.1 C1098.7 852.3 1112.1 852.5 1120.5 853.3 C1128.8 854.1 1137.3 855.2 1144.3 856.9 C1151.2 858.6 1159.2 862.4 1162.1 863.5" fill="none" stroke="url(#g12)" stroke-width="6" stroke-linecap="round" stroke-linejoin="round" opacity="1"/>
<path d="M1078.8 868.8 C1085.8 868.9 1108.6 868.6 1120.5 869.4 C1132.4 870.2 1141.7 871.7 1150.2 873.6 C1158.8 875.5 1167 877.3 1171.7 880.7 C1176.3 884.1 1177.1 891.6 1178.2 893.8" fill="none" stroke="url(#g13)" stroke-width="10.1" stroke-linecap="round" stroke-linejoin="round" opacity="1"/>
<path d="M1102.6 886.7 C1107.6 886.3 1124.4 884.2 1132.4 884.3 C1140.3 884.4 1144.7 884.9 1150.2 887.3 C1155.8 889.6 1163.1 896.7 1165.7 898.6" fill="none" stroke="url(#g14)" stroke-width="5.4" stroke-linecap="round" stroke-linejoin="round" opacity="1"/>
</g>
<g filter="url(#pblur)">
<path d="M1056.8 880.2 C1061.7 883.7 1079.1 893.3 1086.5 901.4 C1093.9 909.5 1099.4 920.8 1101.3 929 C1103.3 937.1 1099.6 944.5 1098.1 950.2 C1096.7 955.8 1093.7 960.8 1092.8 962.9" fill="none" stroke="url(#g15)" stroke-width="16.5" stroke-linecap="round" stroke-linejoin="round" opacity="1"/>
<path d="M1052.6 890.8 C1056.8 894.3 1071.6 904.2 1078 912 C1084.4 919.8 1089.3 929.3 1090.7 937.4 C1092.1 945.6 1087.2 956.9 1086.5 960.8" fill="none" stroke="url(#g16)" stroke-width="31.8" stroke-linecap="round" stroke-linejoin="round" opacity="1"/>
<path d="M1090.7 962.9 C1091.4 966.1 1094.6 974.5 1095 982 C1095.3 989.4 1093.2 1003.2 1092.8 1007.4" fill="none" stroke="url(#g17)" stroke-width="17" stroke-linecap="round" stroke-linejoin="round" opacity="1"/>
<path d="M1035.6 903.5 C1039.1 906.3 1051.5 914.5 1056.8 920.5 C1062.1 926.5 1065.6 936.4 1067.4 939.6" fill="none" stroke="url(#g18)" stroke-width="5.5" stroke-linecap="round" stroke-linejoin="round" opacity="1"/>
<path d="M1109.8 890.8 C1113 894 1123.9 903.2 1128.9 909.9 C1133.8 916.6 1136.8 924 1139.5 931.1 C1142.1 938.1 1143.9 948.7 1144.8 952.3" fill="none" stroke="url(#g19)" stroke-width="5.9" stroke-linecap="round" stroke-linejoin="round" opacity="1"/>
<path d="M1099.2 886.6 C1102.4 890.1 1114 900.7 1118.3 907.8 C1122.5 914.8 1124.3 921.2 1124.6 929 C1125 936.7 1121.1 950.2 1120.4 954.4" fill="none" stroke="url(#g20)" stroke-width="6.4" stroke-linecap="round" stroke-linejoin="round" opacity="1"/>
<path d="M1120.4 954.4 C1119.7 959 1119 973.1 1116.2 982 C1113.3 990.8 1105.6 1003.2 1103.4 1007.4" fill="none" stroke="url(#g21)" stroke-width="12.7" stroke-linecap="round" stroke-linejoin="round" opacity="1"/>
<path d="M1073.8 952.3 C1075.2 949.8 1079.4 942 1082.2 937.4 C1085.1 932.8 1089.3 926.8 1090.7 924.7" fill="none" stroke="url(#g22)" stroke-width="11.7" stroke-linecap="round" stroke-linejoin="round" opacity="1"/>
<circle cx="807.2" cy="987.4" r="22" fill="url(#g23)"/>
<circle cx="822.3" cy="996.5" r="9.5" fill="#ffd800" opacity="0.9"/>
</g>
<g filter="url(#pblur0)">
<path d="M893.8 1005.4 L870.7 999.7 L832.4 994.5 L825.3 1000.5 L825.8 1026.7 L840.4 1029.2 L870.7 1020.7 L893.8 1015.8Z" fill="url(#g24)"/>
<path d="M930.1 1006.6 L930.1 1014.1 L893.8 1015.8 L893.8 1005.4 L911 1004.5Z" fill="url(#g25)"/>
</g>
</g>
<text x="263.5" y="511" style="font-size:16.85px;fill:#fff" fill-opacity="0.9">FLEXPART-WRF at MIM (LMU Munich)</text>
<text x="263.5" y="528.7" style="font-size:16.85px;fill:#fff" fill-opacity="0.9">christoph.knote@lmu.de</text>
<text x="263.5" y="546" style="font-size:16.85px;fill:#fff" fill-opacity="0.9">2020-03-24</text>
<text x="1577.5" y="1501.9" style="font-size:41.9px" text-anchor="end">2020-03-22 18:00 UTC</text>
</g>
<rect x="251.1" y="485.4" width="1356.1" height="1054.1" fill="none" stroke="#000" stroke-width="3.9"/>
<text x="285.4" y="1588" text-anchor="middle">12</text>
<text x="466.2" y="1588" text-anchor="middle">18</text>
<text x="646.9" y="1588" text-anchor="middle">24</text>
<text x="827.7" y="1588" text-anchor="middle">30</text>
<text x="1008.4" y="1588" text-anchor="middle">36</text>
<text x="1189.2" y="1588" text-anchor="middle">42</text>
<text x="1369.9" y="1588" text-anchor="middle">48</text>
<text x="1550.7" y="1588" text-anchor="middle">54</text>
<text x="230.2" y="1545" text-anchor="end">18</text>
<text x="230.2" y="1364.1" text-anchor="end">24</text>
<text x="230.2" y="1183.2" text-anchor="end">30</text>
<text x="230.2" y="1002.3" text-anchor="end">36</text>
<text x="230.2" y="821.4" text-anchor="end">42</text>
<text x="230.2" y="640.5" text-anchor="end">48</text>
<text x="929.2" y="461.4" text-anchor="middle">Column-integrated residence time</text>
<path d="M1979.2 829.3 L2007.4 829.3 L2017.9 836.6 L1990.7 838.1Z" fill="#f1f1fc"/>
<path d="M1991 838.1 L2018.9 838.1 L2018.9 845.2 L2017.4 847.2 L1989.2 847.2 L1991 844.2Z" fill="#c6c6f8"/>
<path d="M1964 841 L1990.7 841 L1990.7 844.7 L1964 844.7Z" fill="#f5f5fd"/>
<path d="M1989.2 847.2 L2017.4 847.2 L2005.8 858.8 L2007.9 862.8 L2008.4 868.9 L1980.2 868.9 L1978.1 861.3 L1978.1 858.3Z" fill="url(#g31)"/>
<path d="M2017.4 847.2 L2058 847.2 L2045.6 859.8 L2005.8 859.5Z" fill="url(#g32)"/>
<path d="M1950.9 859.3 L1977.6 859.3 L1977.6 862.8 L1950.9 862.8Z" fill="#f5f5fd"/>
<path d="M2007.9 861.8 L2048.2 861.8 L2049.2 868.4 L2008.9 868.4Z" fill="#f7f9fd"/>
<path d="M2008.9 868.4 L2049 868.4 L2045.6 877.9 L2002.8 877.9Z" fill="url(#g33)"/>
<path d="M1978.6 869.4 L2007.9 869.4 L2002.8 877.9 L1976.1 877.9Z" fill="#deedfc"/>
<path d="M2000.8 879.4 L2043.1 879.4 L2041.6 888.5 L2000.3 888.5Z" fill="#c8ecfa"/>
<path d="M2047.1 874.2 L2100.5 874.2 L2099.5 877.9 L2045.6 877.9Z" fill="#f5f5fd"/>
<path d="M1909.1 886 L1916 886 L1916 898.6 L1914.2 913.7 L1906.1 913.7 L1906.1 903.6 L1908.6 898.6Z" fill="url(#g34)"/>
<path d="M1916.4 889.3 L1926.8 889.3 L1924.8 900.6 L1914.7 900.6Z" fill="#dcf2fc"/>
<path d="M1926.5 892 L1946.9 892 L1944.4 904.6 L1923.2 904.6Z" fill="#a8ecf8"/>
<path d="M1924.3 910.2 L1944.4 910.2 L1944.4 916.7 L1925.3 916.7Z" fill="#d8f0fc"/>
<path d="M1946.4 895 L1973.6 895 L1971.1 905.6 L1973.1 919.7 L1974.1 922.8 L1947.4 922.8 L1944.4 913.7 L1944.4 900.6Z" fill="url(#g35)"/>
<path d="M1973.6 889.5 L2000.8 889.5 L2000.3 895 L1973.6 895Z" fill="#dcfcf6"/>
<path d="M1973.6 895 L2000.3 895 L1998.8 905.6 L1999.8 920.7 L2003.8 925.8 L1977.1 925.8 L1973.1 919.7 L1971.1 905.6Z" fill="url(#g36)"/>
<path d="M2000.8 889 L2042.1 889 L2041.6 898.6 L2000.3 898.6Z" fill="#64f4e0"/>
<path d="M1999.8 900.6 L2040.1 900.6 L2039.1 905.6 L2041.1 916.7 L2046.6 928.8 L2005.3 928.8 L1999.8 920.7 L1998.8 905.6Z" fill="url(#g37)"/>
<path d="M2042.1 886 L2096 886 L2096 895.6 L2042.1 895.6Z" fill="#e8f6fd"/>
<path d="M1861.9 1006.4 L1879 1006.4 L1881.2 1008.1 L1864.1 1008.1Z" fill="#f0c8c8"/>
<path d="M1862.4 1008.1 L1878.5 1008.1 L1888.2 1011.9 L1888.2 1014.2 L1872.4 1014.2Z" fill="#8b0000"/>
<path fill="none" stroke="#808080" stroke-width="1.1" stroke-dasharray="4.03 1.74" d="M1875.4 485.8V1540 M2075.4 485.8V1540 M2274.6 485.8V1540"/>
<path fill="#000" d="M1855 484.2 L1862.4 485.5 L1861.9 535.4 L1860.8 566.4 L1859.1 590.7 L1861.9 601.8 L1860.5 618.4 L1857.2 646.1 L1855.8 673.7 L1856.9 701.4 L1856.9 784.5 L1856.9 801.1 L1854.3 801.1 L1854.3 485.8Z"/>
<path fill="#000" d="M1854.3 799.4 L1855 799.4 L1856.9 800.8 L1861.9 804.9 L1875.7 808.2 L1903.4 813.2 L1910.3 817.4 L1913.6 822.1 L1912.2 829.3 L1920 834.8 L1924.1 840.9 L1922.2 846.4 L1915.8 852.5 L1910.9 856.9 L1910.3 860.8 L1913.1 867.2 L1911.7 872.7 L1908.9 877.4 L1907.5 885.2 L1906.2 896.2 L1904.2 907.3 L1904.8 915.6 L1908.4 923.9 L1910.3 930.8 L1909.5 939.1 L1913.1 947.5 L1928.3 955.2 L1926.9 958.5 L1914.5 962.7 L1903.4 966.8 L1892.3 973.7 L1889.6 977.9 L1875.7 982.9 L1859.1 986.8 L1855 988.1 L1854.3 988.1Z"/>
<path fill="#000" d="M1854.3 1005.6 L1855 1005.6 L1860.5 1007.5 L1870.2 1015.8 L1866 1020.2 L1859.1 1024.9 L1855 1029.1 L1854.3 1029.1Z"/>
<path fill="#000" d="M1854.3 1136 L1854.1 1136 L1859.1 1139.3 L1869.6 1145.7 L1875.7 1155.4 L1879 1167.8 L1886.8 1178.9 L1890.9 1188.6 L1881.2 1195.5 L1875.7 1200.2 L1867.4 1206.6 L1859.1 1212.1 L1856.3 1217.6 L1856.9 1227.3 L1860.5 1235.6 L1866 1242.5 L1875.7 1248.1 L1886.8 1253.6 L1894.3 1259.1 L1886.8 1267.5 L1881.2 1275.8 L1877.1 1282.7 L1870.2 1288.2 L1867.4 1296.5 L1869.6 1303.4 L1867.4 1314.5 L1865.2 1328.3 L1863.8 1335.3 L1866 1342.2 L1870.7 1350.5 L1871.6 1358.8 L1873.5 1369.9 L1869.6 1379.5 L1866.9 1387.8 L1868 1396.2 L1871.6 1404.5 L1872.4 1410 L1870.2 1416.9 L1869.6 1426.6 L1870.7 1446 L1872.4 1468.1 L1872.1 1487.5 L1874.3 1504.1 L1877.9 1523.5 L1879.3 1533.2 L1878.5 1539.5 L1854.1 1539.5 L1854.3 1540Z"/>
<rect x="1854.3" y="485.8" width="431.9" height="1054.2" fill="none" stroke="#000" stroke-width="3.06"/>
<path stroke="#808080" stroke-width="3.06" d="M1875.4 485.8V470.5 M2075.4 485.8V470.5 M2274.6 485.8V470.5"/>
<text x="1875.4" y="449.5" text-anchor="middle" style="fill:#808080">0</text>
<text x="2075.4" y="449.5" text-anchor="middle" style="fill:#808080">50</text>
<text x="2274.6" y="449.5" text-anchor="middle" style="fill:#808080">100</text>
<path stroke="#000" stroke-width="3.06" d="M1854.3 566.4H1839 M1854.3 717H1839 M1854.3 867.7H1839 M1854.3 1018.3H1839 M1854.3 1169H1839 M1854.3 1319.6H1839 M1854.3 1470.3H1839"/>
<text x="1825.2" y="579.7" text-anchor="end">50</text>
<text x="1825.2" y="730.3" text-anchor="end">45</text>
<text x="1825.2" y="881" text-anchor="end">40</text>
<text x="1825.2" y="1031.6" text-anchor="end">35</text>
<text x="1825.2" y="1182.3" text-anchor="end">30</text>
<text x="1825.2" y="1332.9" text-anchor="end">25</text>
<text x="1825.2" y="1483.6" text-anchor="end">20</text>
<path stroke="#000" stroke-width="3.06" d="M1854.3 1540V1555.3 M1962.3 1540V1555.3 M2070.3 1540V1555.3 M2178.3 1540V1555.3 M2286.2 1540V1555.3"/>
<text transform="translate(1857.6,1586.2) rotate(45)" text-anchor="middle" y="12.3">0</text>
<text transform="translate(1965.6,1608.9) rotate(45)" text-anchor="middle" y="12.3">2000</text>
<text transform="translate(2073.6,1608.9) rotate(45)" text-anchor="middle" y="12.3">4000</text>
<text transform="translate(2181.6,1608.9) rotate(45)" text-anchor="middle" y="12.3">6000</text>
<text transform="translate(2289.5,1608.9) rotate(45)" text-anchor="middle" y="12.3">8000</text>
<text x="2070" y="1696" text-anchor="middle">altitude (m ASL)</text>
<text transform="translate(2329.5,1016) rotate(-90)" text-anchor="middle">Latitudinal curtain residence time</text>
<text x="2070.5" y="252" text-anchor="middle" style="font-size:50.7px;font-weight:bold">Nicosia</text>
<rect x="194.3" y="1635.7" width="21" height="61.9" fill="#880000"/>
<rect x="214.7" y="1635.7" width="21" height="61.9" fill="#980000"/>
<rect x="235.1" y="1635.7" width="21" height="61.9" fill="#a80000"/>
<rect x="255.5" y="1635.7" width="21" height="61.9" fill="#b80000"/>
<rect x="276" y="1635.7" width="21" height="61.9" fill="#c80000"/>
<rect x="296.4" y="1635.7" width="21" height="61.9" fill="#d80000"/>
<rect x="316.8" y="1635.7" width="21" height="61.9" fill="#e80000"/>
<rect x="337.2" y="1635.7" width="21" height="61.9" fill="#f80d00"/>
<rect x="357.6" y="1635.7" width="21" height="61.9" fill="#ff1a00"/>
<rect x="378" y="1635.7" width="21" height="61.9" fill="#ff2800"/>
<rect x="398.5" y="1635.7" width="21" height="61.9" fill="#ff3500"/>
<rect x="418.9" y="1635.7" width="21" height="61.9" fill="#ff4200"/>
<rect x="439.3" y="1635.7" width="21" height="61.9" fill="#ff4f00"/>
<rect x="459.7" y="1635.7" width="21" height="61.9" fill="#ff5c00"/>
<rect x="480.1" y="1635.7" width="21" height="61.9" fill="#ff6900"/>
<rect x="500.5" y="1635.7" width="21" height="61.9" fill="#ff7600"/>
<rect x="520.9" y="1635.7" width="21" height="61.9" fill="#ff8300"/>
<rect x="541.4" y="1635.7" width="21" height="61.9" fill="#ff9100"/>
<rect x="561.8" y="1635.7" width="21" height="61.9" fill="#ff9e00"/>
<rect x="582.2" y="1635.7" width="21" height="61.9" fill="#ffab00"/>
<rect x="602.6" y="1635.7" width="21" height="61.9" fill="#ffb800"/>
<rect x="623" y="1635.7" width="21" height="61.9" fill="#ffc500"/>
<rect x="643.4" y="1635.7" width="21" height="61.9" fill="#ffd200"/>
<rect x="663.9" y="1635.7" width="21" height="61.9" fill="#ffdf00"/>
<rect x="684.3" y="1635.7" width="21" height="61.9" fill="#ffec00"/>
<rect x="704.7" y="1635.7" width="21" height="61.9" fill="#f3f903"/>
<rect x="725.1" y="1635.7" width="21" height="61.9" fill="#e8ff0f"/>
<rect x="745.5" y="1635.7" width="21" height="61.9" fill="#dcff1a"/>
<rect x="765.9" y="1635.7" width="21" height="61.9" fill="#d1ff26"/>
<rect x="786.3" y="1635.7" width="21" height="61.9" fill="#c6ff31"/>
<rect x="806.8" y="1635.7" width="21" height="61.9" fill="#baff3d"/>
<rect x="827.2" y="1635.7" width="21" height="61.9" fill="#afff48"/>
<rect x="847.6" y="1635.7" width="21" height="61.9" fill="#a3ff53"/>
<rect x="868" y="1635.7" width="21" height="61.9" fill="#98ff5f"/>
<rect x="888.4" y="1635.7" width="21" height="61.9" fill="#8dff6a"/>
<rect x="908.8" y="1635.7" width="21" height="61.9" fill="#81ff76"/>
<rect x="929.2" y="1635.7" width="21" height="61.9" fill="#76ff81"/>
<rect x="949.7" y="1635.7" width="21" height="61.9" fill="#6aff8d"/>
<rect x="970.1" y="1635.7" width="21" height="61.9" fill="#5fff98"/>
<rect x="990.5" y="1635.7" width="21" height="61.9" fill="#53ffa3"/>
<rect x="1010.9" y="1635.7" width="21" height="61.9" fill="#48ffaf"/>
<rect x="1031.3" y="1635.7" width="21" height="61.9" fill="#3dffba"/>
<rect x="1051.7" y="1635.7" width="21" height="61.9" fill="#31ffc6"/>
<rect x="1072.2" y="1635.7" width="21" height="61.9" fill="#26ffd1"/>
<rect x="1092.6" y="1635.7" width="21" height="61.9" fill="#1affdc"/>
<rect x="1113" y="1635.7" width="21" height="61.9" fill="#0ff8e8"/>
<rect x="1133.4" y="1635.7" width="21" height="61.9" fill="#03eaf3"/>
<rect x="1153.8" y="1635.7" width="21" height="61.9" fill="#00dcff"/>
<rect x="1174.2" y="1635.7" width="21" height="61.9" fill="#00cdff"/>
<rect x="1194.6" y="1635.7" width="21" height="61.9" fill="#00bfff"/>
<rect x="1215.1" y="1635.7" width="21" height="61.9" fill="#00b1ff"/>
<rect x="1235.5" y="1635.7" width="21" height="61.9" fill="#00a3ff"/>
<rect x="1255.9" y="1635.7" width="21" height="61.9" fill="#0095ff"/>
<rect x="1276.3" y="1635.7" width="21" height="61.9" fill="#0087ff"/>
<rect x="1296.7" y="1635.7" width="21" height="61.9" fill="#0078ff"/>
<rect x="1317.1" y="1635.7" width="21" height="61.9" fill="#006aff"/>
<rect x="1337.6" y="1635.7" width="21" height="61.9" fill="#005cff"/>
<rect x="1358" y="1635.7" width="21" height="61.9" fill="#004eff"/>
<rect x="1378.4" y="1635.7" width="21" height="61.9" fill="#0040ff"/>
<rect x="1398.8" y="1635.7" width="21" height="61.9" fill="#0032ff"/>
<rect x="1419.2" y="1635.7" width="21" height="61.9" fill="#0023ff"/>
<rect x="1439.6" y="1635.7" width="21" height="61.9" fill="#0015ff"/>
<rect x="1460" y="1635.7" width="21" height="61.9" fill="#0007ff"/>
<rect x="1480.5" y="1635.7" width="21" height="61.9" fill="#0000ff"/>
<rect x="1500.9" y="1635.7" width="21" height="61.9" fill="#0000f8"/>
<rect x="1521.3" y="1635.7" width="21" height="61.9" fill="#0000e8"/>
<rect x="1541.7" y="1635.7" width="21" height="61.9" fill="#0000d8"/>
<rect x="1562.1" y="1635.7" width="21" height="61.9" fill="#0000c8"/>
<rect x="1582.5" y="1635.7" width="21" height="61.9" fill="#0000b8"/>
<rect x="1603" y="1635.7" width="21" height="61.9" fill="#0000a8"/>
<rect x="1623.4" y="1635.7" width="21" height="61.9" fill="#000098"/>
<rect x="1643.8" y="1635.7" width="21" height="61.9" fill="#000088"/>
<rect x="194.3" y="1635.7" width="1469.9" height="61.9" fill="none" stroke="#000" stroke-width="3.06"/>
<path stroke="#000" stroke-width="3.06" d="M194.3 1697.6V1712.9 M357.6 1697.6V1712.9 M520.9 1697.6V1712.9 M684.3 1697.6V1712.9 M847.6 1697.6V1712.9 M1010.9 1697.6V1712.9 M1174.2 1697.6V1712.9 M1337.6 1697.6V1712.9 M1500.9 1697.6V1712.9 M1664.2 1697.6V1712.9"/>
<text x="194.3" y="1753.5" text-anchor="middle">0</text>
<text x="357.6" y="1753.5" text-anchor="middle">8</text>
<text x="520.9" y="1753.5" text-anchor="middle">16</text>
<text x="684.3" y="1753.5" text-anchor="middle">24</text>
<text x="847.6" y="1753.5" text-anchor="middle">32</text>
<text x="1010.9" y="1753.5" text-anchor="middle">40</text>
<text x="1174.2" y="1753.5" text-anchor="middle">48</text>
<text x="1337.6" y="1753.5" text-anchor="middle">56</text>
<text x="1500.9" y="1753.5" text-anchor="middle">64</text>
<text x="1664.2" y="1753.5" text-anchor="middle">72</text>
<text x="930.7" y="1802.7" text-anchor="middle">time since arrival at location [h]</text>
</svg>
</body></html>
